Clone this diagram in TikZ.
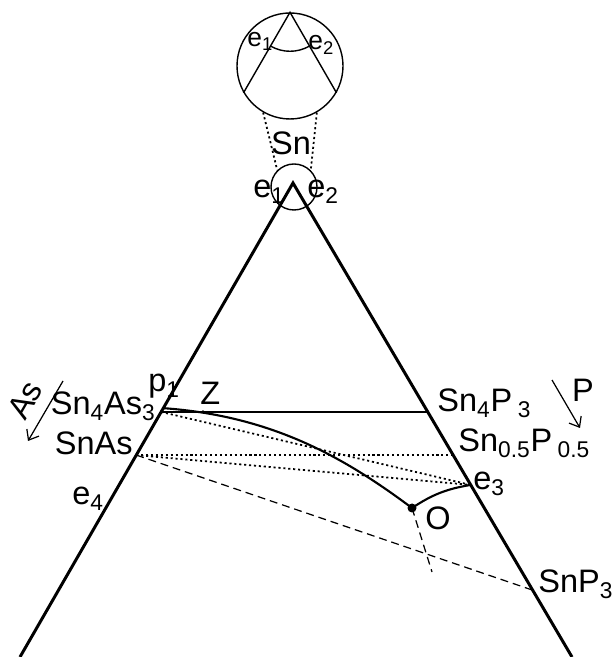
\documentclass[tikz,border=0pt]{standalone}
\usepackage{fontspec}
\setmainfont{Liberation Sans}
\usepackage{tikz}
\usetikzlibrary{arrows.meta,calc}

\begin{document}
\begin{tikzpicture}[
  font=\fontsize{18.5}{22}\selectfont,
  side/.style={line width=1.7pt},
  tie/.style={line width=1.1pt},
  liq/.style={line width=1.2pt},
  dotline/.style={line width=1pt,dash pattern=on 1.2pt off 1.6pt},
  dashline/.style={line width=0.7pt,dash pattern=on 4.5pt off 2.8pt},
  ring/.style={circle,draw,line width=0.8pt,inner sep=0pt},
  lbl/.style={inner sep=0pt,anchor=base west},
  small/.style={font=\fontsize{15}{18}\selectfont},
  dir/.style={line width=0.7pt,-{Straight Barb[length=5pt,width=8pt]}}
]
\useasboundingbox (0,0) rectangle (12.26,13.14);

% Triangle corner points
\coordinate (top) at (5.86,9.48);
\coordinate (bl) at (0.40,0);
\coordinate (br) at (11.44,0);
\coordinate (p1) at ($(top)!0.475!(bl)$);
\coordinate (sna43) at ($(top)!0.483!(bl)$);
\coordinate (snp43) at ($(top)!0.483!(br)$);
\coordinate (snas) at ($(top)!0.574!(bl)$);
\coordinate (snp11) at ($(top)!0.574!(br)$);
\coordinate (e3) at ($(top)!0.637!(br)$);
\coordinate (snp3) at ($(top)!0.859!(br)$);
\coordinate (Z) at (4.06,4.90);
\coordinate (O) at (8.24,2.98);
\coordinate (Oend) at (8.64,1.70);

% Enlarged corner
\node[ring,minimum size=2.12cm] (big) at (5.80,11.82) {};
\draw[line width=0.8pt] (big.210) -- (big.north) -- (big.330);
\draw[line width=0.8pt] ([shift={(240:0.78)}]big.north)
  arc[start angle=240,end angle=300,radius=0.78];
\node[lbl,small] (be1) at (4.94,12.20) {e\textsubscript{1}};
\node[lbl,small] (be2) at (6.16,12.14) {e\textsubscript{2}};

\node[ring,minimum size=0.92cm] (ring) at (5.88,9.40) {};
\draw[dotline] (big.240) -- (ring.135);
\draw[dotline] (big.300) -- (ring.45);
\node[inner sep=0pt,anchor=base] (sn) at (5.82,10.04) {Sn};
\node[lbl] (se1) at (5.06,9.18) {e\textsubscript{1}};
\node[lbl] (se2) at (6.14,9.18) {e\textsubscript{2}};

% Sides
\draw[side] (bl) -- (top) -- (br);
\draw[tie] (sna43) -- (snp43);

% Tie lines
\draw[dotline] (sna43) -- (e3);
\draw[dotline] (snas) -- (snp11);
\draw[dotline] (snas) -- (e3);
\draw[dashline] (snas) -- (snp3);

% Liquidus
\draw[liq] (p1) .. controls (5.46,4.82) and (6.90,3.98) .. (O);
\draw[liq] (O) to[bend left=12] (e3);
\draw[dashline] (O) -- (Oend);
\fill (O) circle (0.09);
\fill (Z) circle (0.035);

% Labels
\node[lbl,anchor=base east] (lsna43) at (3.12,4.84) {Sn\textsubscript{4}As\textsubscript{3}};
\node[lbl,anchor=base east] (lsnas) at (2.66,4.04) {SnAs};
\node[lbl] (lp1) at (2.96,5.30) {p\textsubscript{1}};
\node[lbl] (lz) at (4.00,5.04) {Z};
\node[lbl] (le4) at (1.44,3.04) {e\textsubscript{4}};
\node[lbl] (lsnp43) at (8.74,4.90) {Sn\textsubscript{4}P\,\textsubscript{3}};
\node[lbl] (lsnp11) at (9.16,4.10) {Sn\textsubscript{0.5}P\,\textsubscript{0.5}};
\node[lbl] (le3) at (9.46,3.34) {e\textsubscript{3}};
\node[lbl] (lo) at (8.50,2.54) {O};
\node[lbl] (lsnp3) at (10.76,1.28) {SnP\textsubscript{3}};

% Directions
\coordinate (asA) at (1.26,5.52);
\coordinate (asB) at (0.56,4.32);
\draw[dir] (asA) -- (asB);
\node[inner sep=0pt,rotate=60] (las) at (0.50,5.14) {As};
\coordinate (pA) at (11.04,5.54);
\coordinate (pB) at (11.60,4.58);
\draw[dir] (pA) -- (pB);
\node[inner sep=0pt] (lp) at (11.66,5.34) {P};
\end{tikzpicture}
\end{document}
